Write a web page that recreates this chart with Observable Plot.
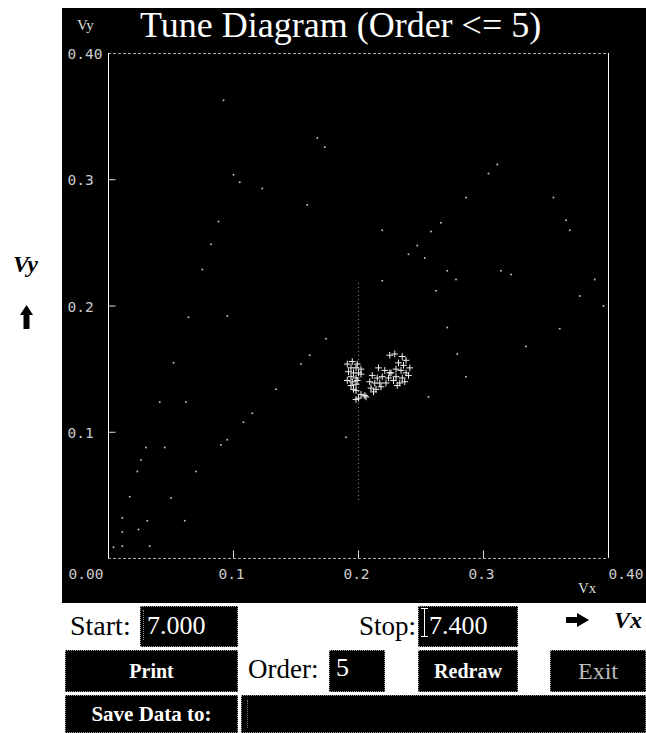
<!DOCTYPE html>
<html>
<head>
<meta charset="utf-8">
<script src="https://cdn.jsdelivr.net/npm/d3@7"></script>
<script src="https://cdn.jsdelivr.net/npm/@observablehq/plot@0.6"></script>
<style>
  html, body { margin:0; padding:0; background:#fff; }
  body { position:relative; width:646px; height:733px; overflow:hidden; }
  .t { position:absolute; white-space:nowrap; line-height:1; font-family:"Liberation Serif", serif; }
  .box { position:absolute; background:#000; border:1px dotted #999; box-sizing:border-box; color:#fff;
         display:flex; align-items:center; justify-content:center; font-family:"Liberation Serif", serif; }
  #panel { position:absolute; left:62px; top:8px; width:584px; height:595px; background:#000; }
  #panel svg { display:block; }
</style>
</head>
<body>
<div id="panel"></div>

<div class="t" style="left:140px; top:7px; font-size:36px; color:#fff;">Tune Diagram (Order &lt;= 5)</div>
<div class="t" style="left:77px; top:18px; font-size:15px; color:#ddd;">Vy</div>
<div class="t" style="left:578px; top:581px; font-size:15px; color:#ddd;">Vx</div>

<div class="t" style="left:13px; top:252px; font-size:24px; font-weight:bold; font-style:italic; color:#000;">Vy</div>
<svg style="position:absolute; left:19px; top:304px;" width="16" height="26">
  <polygon points="7.5,1 14,11 10.5,11 10.5,25 4.5,25 4.5,11 1,11" fill="#000"/>
</svg>

<div class="t" style="left:70px; top:612px; font-size:28px; color:#000;">Start:</div>
<div class="box" style="left:140px; top:606px; width:98px; height:41px;"></div>
<div style="position:absolute; left:143px; top:610px; width:0; height:30px; border-left:1px dotted #888;"></div>
<div class="t" style="left:147px; top:613px; font-size:26px; color:#fff;">7.000</div>

<div class="t" style="left:359px; top:613px; font-size:27px; color:#000;">Stop:</div>
<div class="box" style="left:418px; top:606px; width:100px; height:41px;"></div>
<div style="position:absolute; left:424px; top:608px; width:1px; height:29px; background:#fff;"></div>
<div style="position:absolute; left:421px; top:608px; width:7px; height:1px; background:#fff;"></div>
<div style="position:absolute; left:421px; top:636px; width:7px; height:1px; background:#fff;"></div>
<div class="t" style="left:429px; top:613px; font-size:26px; color:#fff;">7.400</div>

<svg style="position:absolute; left:565px; top:611px;" width="25" height="18">
  <polygon points="1,6 12,6 12,2 24,9 12,16 12,12 1,12" fill="#000"/>
</svg>
<div class="t" style="left:614px; top:608px; font-size:24px; font-weight:bold; font-style:italic; color:#000;">Vx</div>

<div class="box" style="left:65px; top:650px; width:173px; height:42px; font-size:20px; font-weight:bold;">Print</div>
<div class="t" style="left:248px; top:656px; font-size:27px; color:#000;">Order:</div>
<div class="box" style="left:329px; top:650px; width:56px; height:42px;"></div>
<div class="t" style="left:336px; top:655px; font-size:26px; color:#fff;">5</div>
<div class="box" style="left:418px; top:650px; width:100px; height:42px; font-size:20px; font-weight:bold;">Redraw</div>
<div class="box" style="left:550px; top:650px; width:96px; height:42px; font-size:24px; color:#bbb;">Exit</div>

<div class="box" style="left:65px; top:695px; width:173px; height:38px; font-size:21px; font-weight:bold;">Save Data to:</div>
<div class="box" style="left:241px; top:695px; width:405px; height:38px;"></div>
<div style="position:absolute; left:247px; top:700px; width:0; height:28px; border-left:1px dotted #777;"></div>

<script>
// ---- data ----
const xTickValues = [0, 0.1, 0.2, 0.3, 0.4];
const xTickLabels = ["0.00", "0.1", "0.2", "0.3", "0.40"];
const yTickValues = [0.4, 0.3, 0.2, 0.1];
const yTickLabels = ["0.40", "0.3", "0.2", "0.1"];
const innerTicks = [0.1, 0.2, 0.3];

// resonance line segment (vertical, nu_x = 0.2)
const resonanceX = [0.2];
const resonanceY1 = [0.046];
const resonanceY2 = [0.22];

// faint scattered tune points [nu_x, nu_y]
const scatterPoints = [
  [0.092,0.363],[0.167,0.333],[0.173,0.326],[0.100,0.304],[0.105,0.298],[0.123,0.293],
  [0.159,0.280],[0.088,0.267],[0.082,0.249],[0.075,0.229],[0.064,0.191],[0.095,0.192],
  [0.174,0.174],[0.311,0.312],[0.304,0.305],[0.286,0.286],[0.356,0.286],[0.266,0.266],
  [0.219,0.260],[0.258,0.259],[0.366,0.268],[0.369,0.260],[0.247,0.248],[0.240,0.241],
  [0.253,0.238],[0.271,0.228],[0.278,0.221],[0.314,0.228],[0.322,0.225],[0.219,0.220],
  [0.389,0.221],[0.262,0.212],[0.377,0.208],[0.396,0.200],[0.271,0.183],[0.361,0.182],
  [0.334,0.168],[0.279,0.162],[0.286,0.144],[0.256,0.128],[0.052,0.155],[0.161,0.161],
  [0.154,0.154],[0.134,0.134],[0.041,0.124],[0.062,0.124],[0.115,0.115],[0.108,0.108],
  [0.095,0.094],[0.090,0.090],[0.030,0.088],[0.045,0.088],[0.026,0.078],[0.070,0.069],
  [0.023,0.069],[0.017,0.049],[0.050,0.048],[0.011,0.032],[0.031,0.030],[0.061,0.030],
  [0.024,0.023],[0.011,0.021],[0.011,0.010],[0.004,0.009],[0.033,0.010],[0.190,0.096]
];

// dense cluster of measured tunes [nu_x, nu_y]
const clusterPoints = [
  [0.191,0.154],[0.195,0.156],[0.199,0.154],[0.194,0.151],[0.198,0.151],[0.202,0.150],
  [0.192,0.148],[0.196,0.147],[0.200,0.147],[0.194,0.144],[0.198,0.143],[0.202,0.146],
  [0.191,0.141],[0.195,0.140],[0.199,0.141],[0.194,0.137],[0.198,0.138],[0.196,0.134],
  [0.198,0.133],[0.202,0.130],[0.205,0.129],[0.200,0.127],[0.206,0.128],[0.198,0.126],
  [0.216,0.151],[0.221,0.149],[0.225,0.147],[0.211,0.145],[0.215,0.143],[0.219,0.144],
  [0.224,0.143],[0.209,0.140],[0.213,0.139],[0.217,0.139],[0.222,0.139],[0.210,0.135],
  [0.214,0.134],[0.218,0.136],[0.212,0.132],
  [0.225,0.161],[0.229,0.162],[0.235,0.160],[0.238,0.157],[0.232,0.155],[0.236,0.153],
  [0.241,0.151],[0.230,0.150],[0.234,0.149],[0.238,0.147],[0.226,0.147],[0.230,0.144],
  [0.235,0.143],[0.240,0.145],[0.228,0.141],[0.233,0.139],[0.237,0.140],[0.231,0.137]
];

const tickLen = 0.006;

const xTicks = xTickValues.map((v, i) => ({v, label: xTickLabels[i], i}));
const yTicks = yTickValues.map((v, i) => ({v, label: yTickLabels[i]}));
const resonance = resonanceX.map((x, i) => ({x, y1: resonanceY1[i], y2: resonanceY2[i]}));
const last = xTicks.length - 1;

const chart = Plot.plot({
  width: 584,
  height: 595,
  marginLeft: 46,
  marginRight: 38,
  marginTop: 45,
  marginBottom: 45,
  x: {domain: [0, 0.4], axis: null},
  y: {domain: [0, 0.4], axis: null},
  style: {background: "#000", color: "#ccc", fontFamily: "'DejaVu Sans Mono', monospace", fontSize: "14.5px", overflow: "visible"},
  marks: [
    Plot.ruleY([0, 0.4], {stroke: "#aaa", strokeDasharray: "3,2"}),
    Plot.ruleX([0, 0.4], {stroke: "#fff", strokeWidth: 1}),
    Plot.ruleX(resonance, {x: "x", y1: "y1", y2: "y2", stroke: "#999", strokeDasharray: "1,3"}),
    Plot.ruleX(innerTicks, {x: d => d, y1: 0, y2: tickLen, stroke: "#ddd"}),
    Plot.ruleY(innerTicks, {y: d => d, x1: 0, x2: tickLen, stroke: "#ddd"}),
    Plot.dot(scatterPoints, {x: d => d[0], y: d => d[1], r: 1, fill: "#bbb", stroke: "none"}),
    Plot.dot(clusterPoints, {x: d => d[0], y: d => d[1], symbol: "plus", r: 2.3, stroke: "#eee", strokeWidth: 1}),
    Plot.text(yTicks, {x: 0, y: "v", text: "label", textAnchor: "start", dx: -41, dy: 1, fill: "#ccc"}),
    Plot.text(xTicks.filter(d => d.i === 0), {x: "v", y: 0, text: "label", textAnchor: "end", dx: -5, dy: 16, fill: "#ccc"}),
    Plot.text(xTicks.filter(d => d.i > 0 && d.i < last), {x: "v", y: 0, text: "label", textAnchor: "middle", dx: -2, dy: 16, fill: "#ccc"}),
    Plot.text(xTicks.filter(d => d.i === last), {x: "v", y: 0, text: "label", textAnchor: "start", dx: 0, dy: 16, fill: "#ccc"})
  ]
});
document.getElementById("panel").appendChild(chart);
</script>
</body>
</html>
